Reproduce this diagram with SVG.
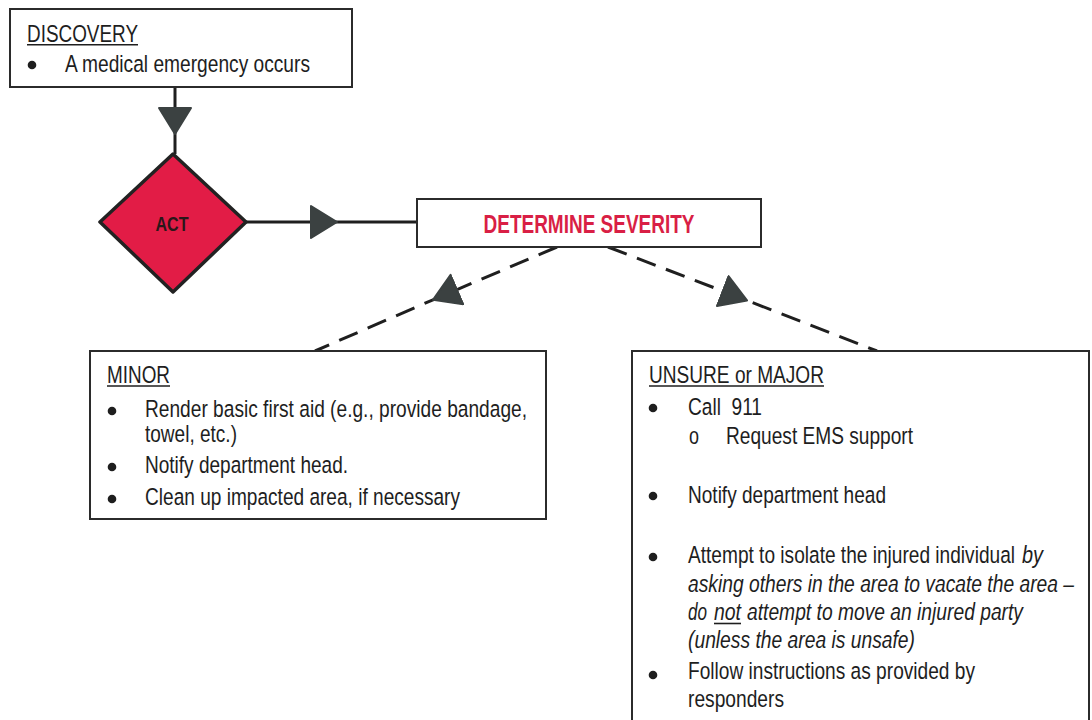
<svg xmlns="http://www.w3.org/2000/svg" width="1092" height="720" viewBox="0 0 1092 720">
  <style>
    .box { fill: #ffffff; stroke: #2b2b2b; stroke-width: 2; }
    .txt { font-family: "Liberation Sans", Arial, sans-serif; font-size: 24.5px; fill: #1e1e1e; }
    .it { font-style: italic; }
    .ul { stroke: #1e1e1e; stroke-width: 1.6; }
    .dot { fill: #1e1e1e; }
    .solid { fill: none; stroke: #1f1f1f; stroke-width: 3; }
    .dash { fill: none; stroke: #1f1f1f; stroke-width: 3; stroke-dasharray: 20 11; }
  </style>
  <defs>
    <marker id="tri" markerUnits="userSpaceOnUse" markerWidth="30" markerHeight="36" refX="27" refY="17" orient="auto">
      <path d="M1,1 L27,17 L1,33 Z" fill="#3b4141" stroke="#3b4141" stroke-width="2" stroke-linejoin="round"/>
    </marker>
  </defs>
  <rect x="0" y="0" width="1092" height="720" fill="#ffffff"/>

  <!-- connectors -->
  <g id="connectors">
    <path class="solid" d="M175,87 L175,134 L175,154" marker-mid="url(#tri)"/>
    <path class="solid" d="M246,222 L337,222 L418,222" marker-mid="url(#tri)"/>
    <path class="dash" d="M557,247 L433,299.8 L315,351" marker-mid="url(#tri)"/>
    <path class="dash" d="M608,247 L747,300.4 L877,351" marker-mid="url(#tri)"/>
  </g>

  <!-- discovery step -->
  <g id="discovery">
    <rect class="box" x="10" y="9" width="342" height="78"/>
    <text class="txt" x="27" y="42" textLength="111" lengthAdjust="spacingAndGlyphs">DISCOVERY</text>
    <line class="ul" x1="27" y1="44.8" x2="138" y2="44.8"/>
    <circle class="dot" cx="32" cy="65" r="4.3"/>
    <text class="txt" x="65" y="72" textLength="245" lengthAdjust="spacingAndGlyphs">A medical emergency occurs</text>
  </g>

  <!-- act decision -->
  <g id="act">
    <polygon points="173,154 246,222 173,292 100,222" fill="#e21c46" stroke="#222222" stroke-width="3.5" stroke-linejoin="round"/>
    <text x="172" y="231" text-anchor="middle" font-family="Liberation Sans, Arial, sans-serif" font-size="21" font-weight="bold" fill="#2a1719" textLength="33" lengthAdjust="spacingAndGlyphs">ACT</text>
  </g>

  <!-- severity check -->
  <g id="severity">
    <rect class="box" x="417" y="199" width="344" height="48"/>
    <text x="589" y="233" text-anchor="middle" font-family="Liberation Sans, Arial, sans-serif" font-size="25" font-weight="bold" fill="#d91f45" textLength="211" lengthAdjust="spacingAndGlyphs">DETERMINE SEVERITY</text>
  </g>

  <!-- minor branch -->
  <g id="minor">
    <rect class="box" x="90" y="351" width="456" height="168"/>
    <text class="txt" x="107" y="383" textLength="63" lengthAdjust="spacingAndGlyphs">MINOR</text>
    <line class="ul" x1="107" y1="386" x2="170" y2="386"/>
    <circle class="dot" cx="112" cy="411" r="4.3"/>
    <text class="txt" x="145" y="417" textLength="382" lengthAdjust="spacingAndGlyphs">Render basic first aid (e.g., provide bandage,</text>
    <text class="txt" x="145" y="442" textLength="92" lengthAdjust="spacingAndGlyphs">towel, etc.)</text>
    <circle class="dot" cx="112" cy="467" r="4.3"/>
    <text class="txt" x="145" y="473" textLength="203" lengthAdjust="spacingAndGlyphs">Notify department head.</text>
    <circle class="dot" cx="112" cy="499" r="4.3"/>
    <text class="txt" x="145" y="505" textLength="315" lengthAdjust="spacingAndGlyphs">Clean up impacted area, if necessary</text>
  </g>

  <!-- unsure or major branch -->
  <g id="major">
    <rect class="box" x="632" y="351" width="457" height="400"/>
    <text class="txt" x="649" y="383" textLength="175" lengthAdjust="spacingAndGlyphs">UNSURE or MAJOR</text>
    <line class="ul" x1="649" y1="386" x2="824" y2="386"/>
    <circle class="dot" cx="653" cy="408" r="4.3"/>
    <text class="txt" x="688" y="415" xml:space="preserve" textLength="74" lengthAdjust="spacingAndGlyphs">Call  911</text>
    <text class="txt" x="689" y="444" textLength="10" lengthAdjust="spacingAndGlyphs">o</text>
    <text class="txt" x="726" y="444" textLength="187" lengthAdjust="spacingAndGlyphs">Request EMS support</text>
    <circle class="dot" cx="653" cy="496" r="4.3"/>
    <text class="txt" x="688" y="503" textLength="198" lengthAdjust="spacingAndGlyphs">Notify department head</text>
    <circle class="dot" cx="653" cy="557" r="4.3"/>
    <text class="txt" x="688" y="563" textLength="327" lengthAdjust="spacingAndGlyphs">Attempt to isolate the injured individual</text>
    <text class="txt it" x="1022" y="563" textLength="21" lengthAdjust="spacingAndGlyphs">by</text>
    <text class="txt it" x="688" y="592" textLength="386" lengthAdjust="spacingAndGlyphs">asking others in the area to vacate the area –</text>
    <text class="txt it" x="688" y="620" textLength="19" lengthAdjust="spacingAndGlyphs">do</text>
    <text class="txt it" x="714" y="620" textLength="27" lengthAdjust="spacingAndGlyphs">not</text>
    <line class="ul" x1="714" y1="623.5" x2="741" y2="623.5"/>
    <text class="txt it" x="747" y="620" textLength="276" lengthAdjust="spacingAndGlyphs">attempt to move an injured party</text>
    <text class="txt it" x="688" y="648" textLength="227" lengthAdjust="spacingAndGlyphs">(unless the area is unsafe)</text>
    <circle class="dot" cx="653" cy="675" r="4.3"/>
    <text class="txt" x="688" y="679" textLength="287" lengthAdjust="spacingAndGlyphs">Follow instructions as provided by</text>
    <text class="txt" x="688" y="707" textLength="96" lengthAdjust="spacingAndGlyphs">responders</text>
  </g>
</svg>
